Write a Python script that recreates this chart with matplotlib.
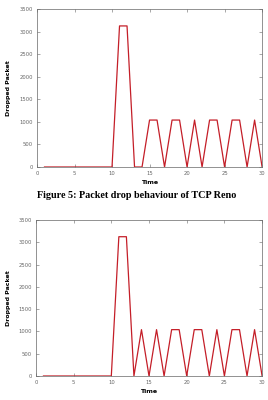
import matplotlib
matplotlib.use("Agg")
import matplotlib.pyplot as plt

# dados (tempo x pacotes descartados)
tempo = list(range(1, 31))
reno = [0, 0, 0, 0, 0, 0, 0, 0, 0, 0,
        3125, 3125, 0, 0, 1040, 1040, 0, 1040, 1040, 0,
        1040, 0, 1040, 1040, 0, 1040, 1040, 0, 1040, 0]
segundo = [0, 0, 0, 0, 0, 0, 0, 0, 0, 0,
           3125, 3125, 0, 1040, 0, 1040, 0, 1040, 1040, 0,
           1040, 1040, 0, 1040, 0, 1040, 1040, 0, 1040, 0]
xticks = [0, 5, 10, 15, 20, 25, 30]
yticks = [0, 500, 1000, 1500, 2000, 2500, 3000, 3500]

cor = "#c41e28"

fig = plt.figure(figsize=(2.68, 4.0), dpi=100)


def desenha(ax, y, ylab_pad):
    ax.plot(tempo, y, color=cor, linewidth=0.9)
    ax.set_xlim(0, 30)
    ax.set_ylim(0, 3500)
    ax.set_xticks(xticks)
    ax.set_yticks(yticks)
    ax.tick_params(labelsize=3.8, length=2, width=0.4, colors="#666666",
                   direction="in", top=True, right=True, pad=3)
    for s in ax.spines.values():
        s.set_linewidth(0.5)
        s.set_color("#666666")
    ax.set_xlabel("Time", fontsize=4.5, fontweight="bold", labelpad=2.5)
    ax.set_ylabel("Dropped Packet", fontsize=4.5, fontweight="bold", labelpad=ylab_pad)


ax1 = fig.add_axes([0.138, 0.5825, 0.84, 0.395])
desenha(ax1, reno, 6)

fig.text(0.51, 0.51, "Figure 5: Packet drop behaviour of TCP Reno",
         ha="center", va="center", fontsize=7.3, fontweight="bold",
         family="Liberation Serif")

ax2 = fig.add_axes([0.134, 0.06, 0.844, 0.39])
desenha(ax2, segundo, 5)

plt.savefig("out.png", dpi=100)
